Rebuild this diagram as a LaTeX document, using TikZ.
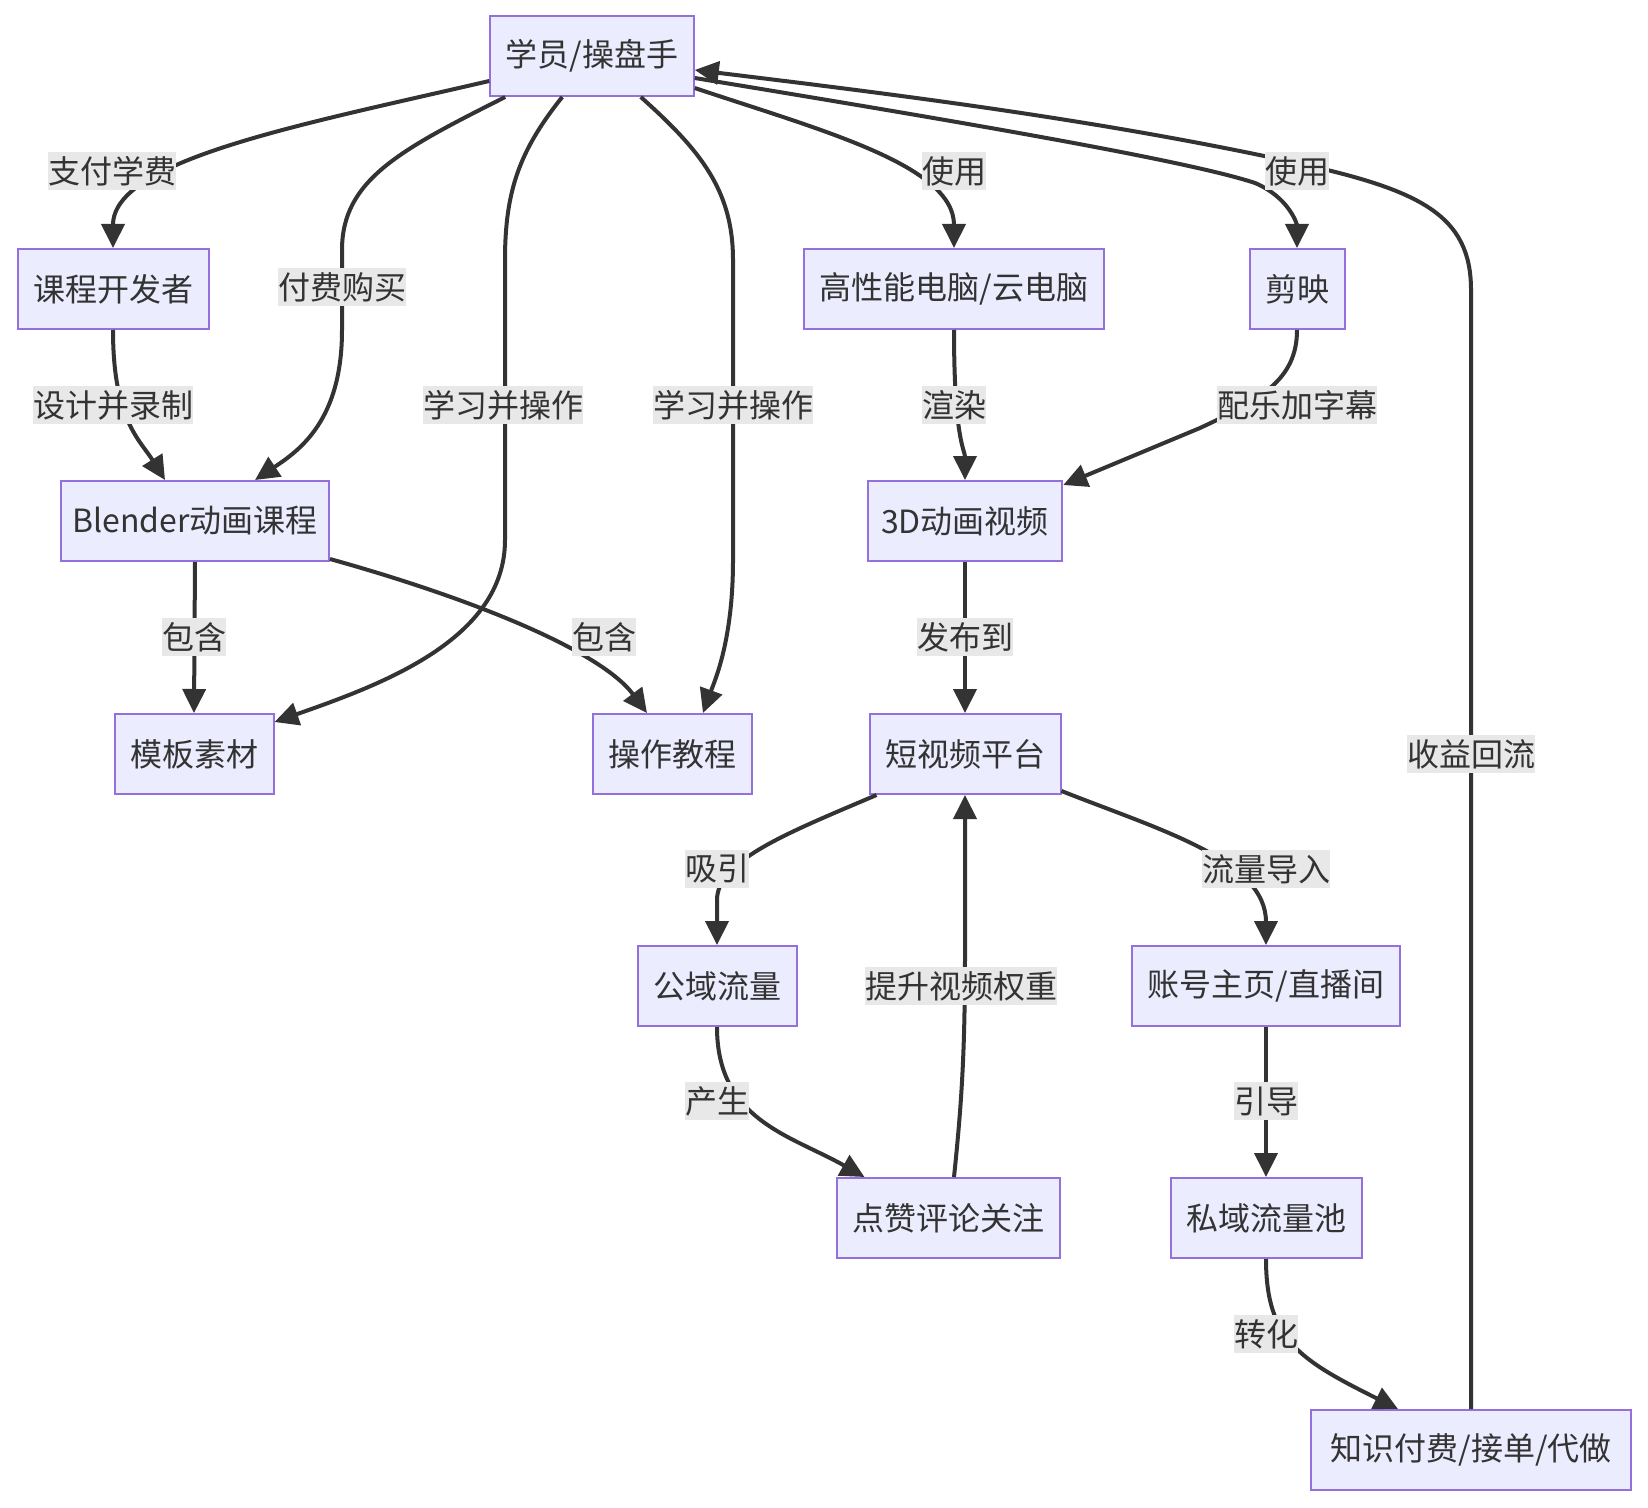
\documentclass[tikz,border=0pt]{standalone}
\usepackage{fontspec}
\setmainfont{Noto Sans CJK SC}
\usetikzlibrary{arrows.meta}
\definecolor{nodefill}{HTML}{ECECFF}
\definecolor{nodeline}{HTML}{9370DB}
\definecolor{ink}{HTML}{333333}
\definecolor{lblbg}{HTML}{E8E8E8}
\begin{document}
\begin{tikzpicture}[x=0.5pt,y=-0.5pt,
  box/.style={draw=nodeline, fill=nodefill, line width=1pt, text=ink,
    font=\fontsize{16pt}{19pt}\selectfont, inner xsep=7.75pt, inner ysep=0pt, minimum height=40pt},
  lbl/.style={fill=lblbg, text=ink, font=\fontsize{16pt}{19pt}\selectfont,
    inner xsep=0pt, inner ysep=0pt, minimum height=19pt},
  edge/.style={draw=ink, line width=2pt, -{Triangle[length=12pt,width=11.5pt]}}]
\useasboundingbox (0,0) rectangle (1648,1508);
% nodes
\node[box] (A) at (592,56) {学员/操盘手};
\node[box] (B) at (113,289) {课程开发者};
\node[box] (C) at (954,289) {高性能电脑/云电脑};
\node[box] (D) at (1297,289) {剪映};
\node[box, inner xsep=5.65pt] (E) at (195,521) {Blender动画课程};
\node[box, inner xsep=6.7pt] (F) at (965,521) {3D动画视频};
\node[box] (G) at (194,754) {模板素材};
\node[box] (H) at (672,754) {操作教程};
\node[box] (I) at (965,754) {短视频平台};
\node[box] (J) at (717,986) {公域流量};
\node[box] (K) at (1266,986) {账号主页/直播间};
\node[box] (L) at (948,1218) {点赞评论关注};
\node[box] (M) at (1266,1218) {私域流量池};
\node[box, inner xsep=9.5pt] (N) at (1471,1450) {知识付费/接单/代做};
% edges
\draw[edge] ([shift={(0,25)}]A.west) .. controls (300,125) and (113,160) .. (B.north);
\draw[edge] ([shift={(16,0)}]A.south west) .. controls (400,150) and (342,180) .. (342,250) -- (342,330) .. controls (342,420) and (300,450) .. ([shift={(60,0)}]E.north);
\draw[edge] ([shift={(73,0)}]A.south west) .. controls (520,150) and (505,190) .. (505,260) -- (505,540) .. controls (505,640) and (380,685) .. ([shift={(0,-32)}]G.east);
\draw[edge] ([shift={(-54,0)}]A.south east) .. controls (700,150) and (733,190) .. (733,260) -- (733,560) .. controls (733,640) and (715,680) .. ([shift={(31,0)}]H.north);
\draw[edge] ([shift={(0,32)}]A.east) .. controls (820,130) and (954,165) .. (C.north);
\draw[edge] ([shift={(0,22)}]A.east) .. controls (900,112) and (1180,158) .. (1255,183) .. controls (1290,198) and (1297,225) .. (D.north);
\draw[edge] (B.south) .. controls (113,420) and (140,440) .. ([shift={(-30,0)}]E.north);
\draw[edge] (C.south) .. controls (954,440) and (965,450) .. (F.north);
\draw[edge] (D.south) .. controls (1297,380) and (1260,400) .. (1200,428) -- ([shift={(0,5)}]F.north east);
\draw[edge] (E.south) -- (G.north);
\draw[edge] ([shift={(0,-3)}]E.south east) .. controls (470,598) and (600,650) .. ([shift={(-25,0)}]H.north);
\draw[edge] (F.south) -- (I.north);
\draw[edge] ([shift={(8,0)}]I.south west) .. controls (790,832) and (717,860) .. (717,900) -- (J.north);
\draw[edge] ([shift={(0,-4)}]I.south east) .. controls (1160,830) and (1266,860) .. (K.north);
\draw[edge] (J.south) .. controls (717,1120) and (790,1135) .. ([shift={(29,0)}]L.north west);
\draw[edge] ([shift={(6,0)}]L.north) .. controls (962,1100) and (965,1050) .. (965,950) -- (I.south);
\draw[edge] (K.south) -- (M.north);
\draw[edge] (M.south) .. controls (1266,1340) and (1300,1360) .. ([shift={(-73,0)}]N.north);
\draw[edge] (N.north) -- (1471,290) .. controls (1471,215) and (1420,190) .. (1297,163) .. controls (1100,120) and (900,95) .. ([shift={(0,14)}]A.east);
% labels
\node[lbl] (l1) at (112,171) {支付学费};
\node[lbl] (l2) at (342,287) {付费购买};
\node[lbl] (l3) at (503,405) {学习并操作};
\node[lbl] (l4) at (733,405) {学习并操作};
\node[lbl] (l5) at (954,171) {使用};
\node[lbl] (l6) at (1297,171) {使用};
\node[lbl] (l7) at (113,405) {设计并录制};
\node[lbl] (l8) at (954,405) {渲染};
\node[lbl] (l9) at (1297,405) {配乐加字幕};
\node[lbl] (l10) at (194,637) {包含};
\node[lbl] (l11) at (604,637) {包含};
\node[lbl] (l12) at (965,637) {发布到};
\node[lbl] (l13) at (717,869) {吸引};
\node[lbl] (l14) at (1266,869) {流量导入};
\node[lbl] (l15) at (717,1101) {产生};
\node[lbl] (l16) at (961,986) {提升视频权重};
\node[lbl] (l17) at (1266,1101) {引导};
\node[lbl] (l18) at (1266,1334) {转化};
\node[lbl] (l19) at (1471,754) {收益回流};
\end{tikzpicture}
\end{document}
